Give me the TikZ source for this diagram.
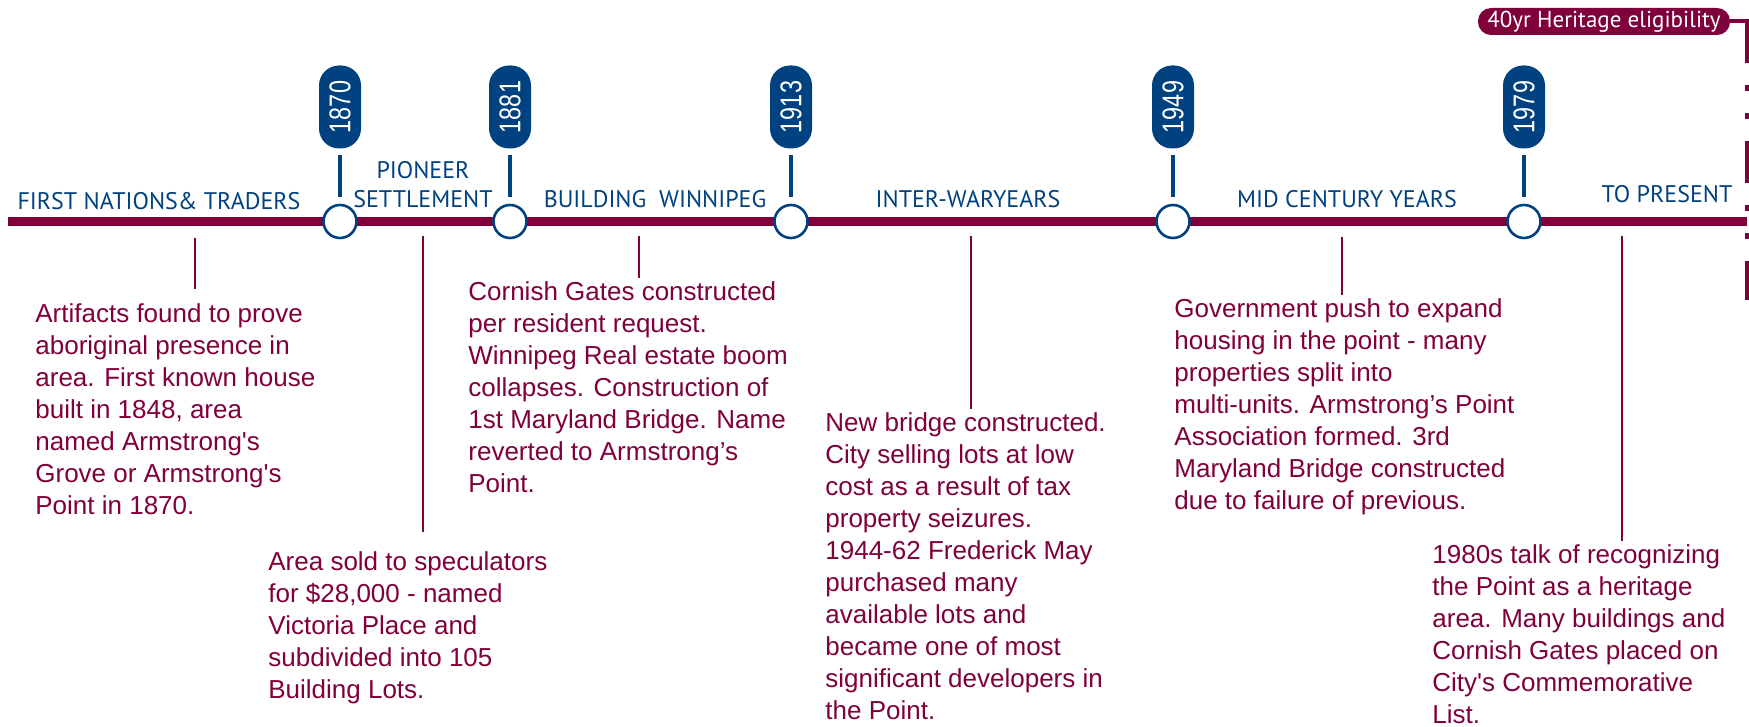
\documentclass[tikz,border=0pt]{standalone}
\usepackage{fontspec}
\setmainfont{Liberation Sans}
\newfontfamily\headfont{PT Sans}
\usetikzlibrary{positioning,shapes}
\definecolor{maroon}{RGB}{127,0,58}
\definecolor{navy}{RGB}{0,65,128}

\tikzset{
  era/.style={text=navy,font=\headfont\fontsize{12}{14.5}\selectfont,anchor=base,inner sep=0pt},
  badge/.style={rectangle,rounded corners=10pt,fill=navy,text=white,rotate=90,
    minimum width=41.5pt,minimum height=21pt,inner sep=0pt,font=\fontsize{15}{15}\selectfont},
  ring/.style={circle,draw=navy,fill=white,line width=1.3pt,minimum size=16.5pt,inner sep=0pt},
  stem/.style={draw=navy,line width=2pt,shorten <=3pt,shorten >=3.5pt},
  note/.style={text=maroon,font=\fontsize{13}{16}\selectfont,align=left,anchor=north west,inner sep=0pt},
  tick/.style={draw=maroon,line width=1pt,shorten >=1.5pt},
  pill/.style={rectangle,rounded corners=6.5pt,fill=maroon,text=white,minimum width=126pt,
    minimum height=13.5pt,inner sep=0pt,font=\headfont\fontsize{11.5}{12}\selectfont}
}

\begin{document}
\begin{tikzpicture}[x=0.5pt,y=-0.5pt,node distance=57.25pt,on grid]
\useasboundingbox (0,0) rectangle (1749,727);

% the time line
\draw[maroon,line width=4.2pt] (8,221.5) coordinate (start) -- (1747,221.5) coordinate (end);

\node[ring] (c1870) at (340,221.5) {};
\node[ring] (c1881) at (510,221.5) {};
\node[ring] (c1913) at (791,221.5) {};
\node[ring] (c1949) at (1173,221.5) {};
\node[ring] (c1979) at (1524,221.5) {};

\node[badge] (y1870) [above=of c1870] {\scalebox{0.78}[1]{1870}};
\node[badge] (y1881) [above=of c1881] {\scalebox{0.78}[1]{1881}};
\node[badge] (y1913) [above=of c1913] {\scalebox{0.78}[1]{1913}};
\node[badge] (y1949) [above=of c1949] {\scalebox{0.78}[1]{1949}};
\node[badge] (y1979) [above=of c1979] {\scalebox{0.78}[1]{1979}};

\path[stem]
  (y1870) edge (c1870)
  (y1881) edge (c1881)
  (y1913) edge (c1913)
  (y1949) edge (c1949)
  (y1979) edge (c1979);

% periods
\node[era] (e1) at (159,210) {FIRST NATIONS\& TRADERS};
\node[era,align=center,anchor=north] (e2) at (423,161) {PIONEER\\SETTLEMENT};
\node[era] (e3) at (655,208) {BUILDING\ \ WINNIPEG};
\node[era] (e4) at (968,208) {INTER-WARYEARS};
\node[era] (e5) at (1347,207) {MID CENTURY YEARS};
\node[era] (e6) at (1667,203) {TO PRESENT};

% events
\node[note] (t1) at (35,303) {Artifacts found to prove\\aboriginal presence in\\area. First known house\\built in 1848, area\\named Armstrong\textquotesingle s\\Grove or Armstrong\textquotesingle s\\Point in 1870.};
\node[note] (t2) at (268,551) {Area sold to speculators\\for \$28,000 - named\\Victoria Place and\\subdivided into 105\\Building Lots.};
\node[note] (t3) at (468,281) {Cornish Gates constructed\\per resident request.\\Winnipeg Real estate boom\\collapses. Construction of\\1st Maryland Bridge. Name\\reverted to Armstrong’s\\Point.};
\node[note] (t4) at (825,412) {New bridge constructed.\\City selling lots at low\\cost as a result of tax\\property seizures.\\1944-62 Frederick May\\purchased many\\available lots and\\became one of most\\significant developers in\\the Point.};
\node[note] (t5) at (1174,298) {Government push to expand\\housing in the point - many\\properties split into\\multi-units. Armstrong’s Point\\Association formed. 3rd\\Maryland Bridge constructed\\due to failure of previous.};
\node[note] (t6) at (1432,544) {1980s talk of recognizing\\the Point as a heritage\\area. Many buildings and\\Cornish Gates placed on\\City\textquotesingle s Commemorative\\List.};

\coordinate (m1) at (195,238);
\coordinate (m2) at (423,236);
\coordinate (m3) at (639,236);
\coordinate (m4) at (971,236);
\coordinate (m5) at (1342,237);
\coordinate (m6) at (1622,236);

\draw[tick,shorten >=7pt] (m1) -- (m1 |- t1.north);
\draw[tick,shorten >=9.5pt] (m2) -- (m2 |- t2.north);
\draw[tick] (m3) -- (m3 |- t3.north);
\draw[tick] (m4) -- (m4 |- t4.north);
\draw[tick] (m5) -- (m5 |- t5.north);
\draw[tick] (m6) -- (m6 |- t6.north);

% heritage bracket
\node[pill] (elig) at (1604,21.5) {40yr Heritage eligibility};
\coordinate (bend) at (1747,21.5);
\coordinate (knee) at (1747,63);
\coordinate (foot) at (1747,300);
\draw[maroon,line width=2pt] (elig.east) -- (bend) -- (knee);
\draw[maroon,line width=2pt,dash pattern=on 3pt off 11pt on 3pt off 11pt on 21pt off 11pt,dash phase=49pt] (knee) -- (foot);
\end{tikzpicture}
\end{document}
